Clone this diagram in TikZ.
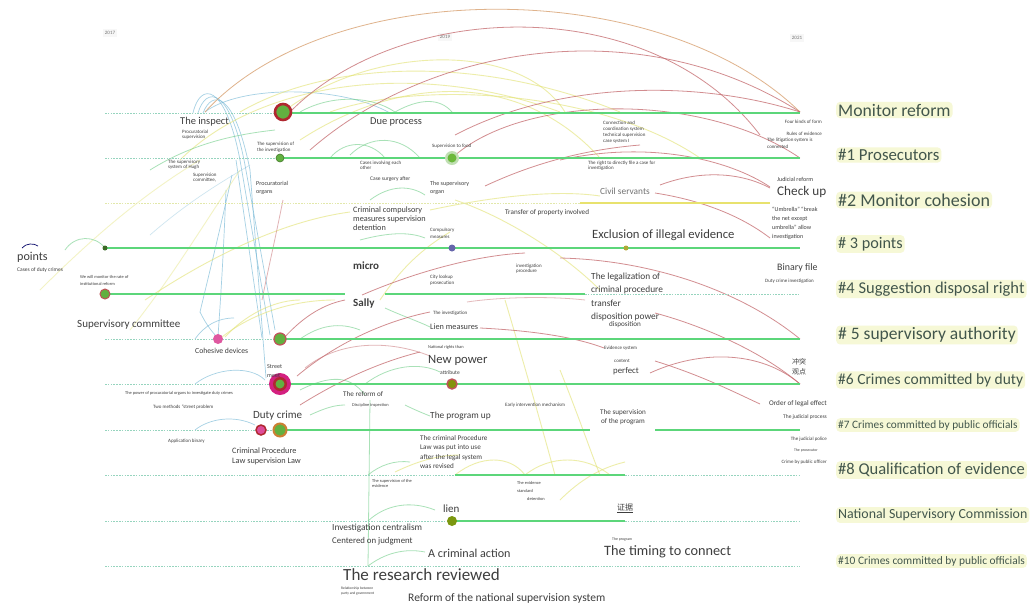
\documentclass[tikz,border=0pt]{standalone}
\usepackage{fontspec}
\setmainfont{Carlito}
\newfontfamily\cjkf{Noto Sans CJK SC}
\definecolor{ctlg}{RGB}{92,214,122}
\definecolor{ctld}{RGB}{150,212,190}
\definecolor{ctly}{RGB}{232,226,110}
\definecolor{ctlyd}{RGB}{226,232,170}
\definecolor{cR}{RGB}{196,104,108}
\definecolor{cO}{RGB}{216,160,112}
\definecolor{cY}{RGB}{226,226,112}
\definecolor{cG}{RGB}{112,206,136}
\definecolor{cB}{RGB}{118,184,214}
\definecolor{txtc}{RGB}{62,62,62}
\definecolor{labc}{RGB}{66,86,76}
\definecolor{hl}{RGB}{246,248,214}
\definecolor{cring}{RGB}{176,40,48}
\definecolor{cmag}{RGB}{212,32,128}
\definecolor{cgreen}{RGB}{98,176,64}
\begin{document}
\begin{tikzpicture}[x=1pt,y=-1pt,
  fs/.style 2 args={font=\fontsize{\fpeval{1.1*#1}}{\fpeval{1.1*#2}}\selectfont},
  fr/.style 2 args={font=\fontsize{#1}{#2}\selectfont},
  tx/.style={inner sep=0pt, anchor=west, align=left, text=txtc},
  txr/.style={inner sep=0pt, anchor=east, align=right, text=txtc},
  lab/.style={anchor=west, inner sep=2pt, text=labc, fill=hl, rounded corners=4pt},
  yr/.style={inner sep=2pt, text=black!55, fill=black!3, fr={5}{6}},
  tsolid/.style={draw=ctlg, line width=2.6pt},
  tdash/.style={draw=ctld, line width=.8pt, dash pattern=on 1.6pt off 1.2pt},
  arR/.style={draw=cR, line width=.8pt, opacity=.75},
  arO/.style={draw=cO, line width=.8pt, opacity=.8},
  arY/.style={draw=cY, line width=.9pt, opacity=.6},
  arG/.style={draw=cG, line width=.8pt, opacity=.6},
  arB/.style={draw=cB, line width=.7pt, opacity=.65},
  hub/.style={circle, inner sep=0pt, fill=cgreen}
]
\useasboundingbox (0,0) rectangle (1030,603);
\fill[white] (0,0) rectangle (1030,603);

% ---------- year labels ----------
\node[yr] (y17) at (110,33) {2017};
\node[yr] (y19) at (445,37) {2019};
\node[yr] (y21) at (797,38) {2021};

% ---------- arcs (behind) ----------
% blue
\draw[arB] (193,113) .. controls (200,82) and (225,82) .. (240,160);
\draw[arB] (198,113) .. controls (206,86) and (230,86) .. (245,165);
\draw[arB] (203,113) .. controls (212,90) and (234,90) .. (250,170);
\draw[arB] (205,112) .. controls (240,85) and (340,85) .. (390,113);
\draw[arB] (240,160) -- (270,335);
\draw[arB] (245,165) -- (275,330);
\draw[arB] (250,170) -- (266,378);
\draw[arB] (236,160) -- (262,338);
\draw[arB] (232,175) .. controls (220,230) and (210,270) .. (200,312);
\draw[arB] (226,190) .. controls (224,240) and (222,280) .. (218,336);
\draw[arB] (200,312) .. controls (205,322) and (210,330) .. (218,338);
\draw[arB] (195,339) .. controls (205,325) and (218,318) .. (234,318);
\draw[arB] (195,384) .. controls (215,368) and (250,365) .. (265,380);
\draw[arB] (195,430) .. controls (210,418) and (235,415) .. (255,425);
\draw[arB, opacity=.35] (150,235) .. controls (190,200) and (225,180) .. (250,165);
% yellow
\draw[arY] (180,160) .. controls (260,80) and (420,60) .. (560,112);
\draw[arY] (240,112) .. controls (330,60) and (480,55) .. (620,112);
\draw[arY] (300,140) .. controls (400,75) and (520,70) .. (600,158);
\draw[arY] (330,112) .. controls (420,80) and (600,90) .. (700,158);
\draw[arY] (283,112) .. controls (370,45) and (520,40) .. (565,112);
\draw[arY, opacity=.4] (40,290) .. controls (100,230) and (150,190) .. (200,160);
\draw[arY, opacity=.4] (130,330) .. controls (170,280) and (200,230) .. (240,170);
\draw[arY] (145,300) .. controls (220,250) and (290,220) .. (350,212);
\draw[arY] (455,200) .. controls (500,215) and (560,250) .. (600,290);
\draw[arY] (430,210) .. controls (500,195) and (560,190) .. (600,196);
\draw[arY] (380,300) .. controls (400,270) and (420,250) .. (450,232);
\draw[arY] (222,337) .. controls (250,315) and (290,300) .. (335,300);
\draw[arY] (225,337) .. controls (250,310) and (280,300) .. (300,300);
\draw[arY] (560,370) .. controls (580,420) and (590,450) .. (600,475);
\draw[arY] (505,300) .. controls (520,350) and (540,420) .. (555,475);
\draw[arY] (455,475) .. controls (480,455) and (510,455) .. (525,475);
\draw[arY] (525,475) .. controls (550,455) and (585,455) .. (610,475);
\draw[arY] (395,472) .. controls (420,460) and (440,455) .. (460,455);
\draw[arY] (560,500) .. controls (580,480) and (600,468) .. (625,462);
% green
\draw[arG] (300,112) .. controls (330,95) and (370,95) .. (395,112);
\draw[arG] (395,112) .. controls (420,98) and (440,98) .. (452,112);
\draw[arG] (330,158) .. controls (345,140) and (370,140) .. (385,158);
\draw[arG] (350,155) .. controls (370,135) and (400,135) .. (420,158);
\draw[arG] (150,170) .. controls (190,145) and (230,135) .. (275,130);
\draw[arG] (370,200) .. controls (390,185) and (410,185) .. (425,195);
\draw[arG] (65,250) .. controls (75,235) and (95,235) .. (105,248);
\draw[arG] (360,240) .. controls (390,232) and (410,232) .. (425,238);
\draw[arG] (385,308) .. controls (400,315) and (420,322) .. (430,327);
\draw[arG] (300,390) .. controls (330,375) and (350,375) .. (365,395);
\draw[arG] (310,415) .. controls (325,408) and (335,405) .. (345,405);
\draw[arG] (405,405) .. controls (415,410) and (425,414) .. (430,416);
\draw[arG] (370,400) -- (368,566);
\draw[arG] (368,521) .. controls (385,505) and (410,500) .. (435,510);
\draw[arG] (368,566) .. controls (385,553) and (405,548) .. (425,552);
\draw[arG] (368,475) .. controls (380,465) and (395,460) .. (410,462);
\draw[arG] (365,384) .. controls (390,365) and (420,362) .. (440,372);
\draw[arG] (300,339) .. controls (320,325) and (340,322) .. (360,330);
% red / orange
\draw[arO] (205,112) .. controls (330,-25) and (660,-25) .. (800,112);
\draw[arR] (290,112) .. controls (400,0) and (650,-10) .. (760,135);
\draw[arR] (310,150) .. controls (430,45) and (640,10) .. (800,112);
\draw[arR] (455,135) .. controls (560,80) and (700,80) .. (800,112);
\draw[arR] (452,158) .. controls (520,95) and (700,90) .. (800,158);
\draw[arR] (560,160) .. controls (650,140) and (730,160) .. (770,187);
\draw[arR] (660,185) .. controls (700,170) and (740,172) .. (770,188);
\draw[arR] (655,193) .. controls (700,200) and (740,215) .. (770,238);
\draw[arR] (485,186) .. controls (530,165) and (580,150) .. (640,145);
\draw[arR] (560,258) .. controls (650,260) and (740,290) .. (800,339);
\draw[arR] (655,313) .. controls (700,325) and (760,350) .. (800,384);
\draw[arR] (655,361) .. controls (700,375) and (730,390) .. (760,404);
\draw[arR] (650,373) .. controls (700,350) and (760,350) .. (800,384);
\draw[arR] (362,295) .. controls (420,270) and (480,255) .. (525,253);
\draw[arR, opacity=.45] (467,302) .. controls (500,297) and (550,296) .. (585,300);
\draw[arR] (480,328) .. controls (520,330) and (570,335) .. (604,348);
\draw[arR] (297,376) .. controls (340,340) and (390,320) .. (430,312);
\draw[arR] (300,405) .. controls (340,380) and (380,362) .. (420,352);
\draw[arR, opacity=.5] (305,368) .. controls (340,340) and (390,340) .. (430,356);
\draw[arR] (283,339) .. controls (300,320) and (320,305) .. (345,300);
\draw[arR, opacity=.5] (283,200) .. controls (275,240) and (268,270) .. (262,300);
\draw[draw=black!60!blue, line width=.7pt] (22,248) .. controls (26,243) and (34,243) .. (38,246);

% ---------- timelines ----------
\draw[tdash] (105,113) -- (283,113);  \draw[tsolid] (283,113) -- (800,113);
\draw[tdash] (105,158) -- (280,158);  \draw[tsolid] (280,158) -- (800,158);
\draw[draw=ctlyd, line width=.8pt, dash pattern=on 1.6pt off 1.2pt] (105,203) -- (580,203);
\draw[draw=ctly, line width=2pt] (580,203) -- (770,203);
\draw[tsolid] (105,248) -- (800,248);
\draw[tsolid] (105,294) -- (345,294);  \draw[tsolid] (385,294) -- (585,294);
\draw[tdash] (585,294) -- (800,294);
\draw[tdash] (105,339) -- (280,339);  \draw[tsolid] (280,339) -- (800,339);
\draw[tdash] (105,384) -- (280,384);  \draw[tsolid] (280,384) -- (800,384);
\draw[tdash] (105,430) -- (280,430);  \draw[tsolid] (280,430) -- (590,430);
\draw[tsolid] (655,430) -- (800,430);
\draw[tdash] (105,475) -- (455,475);  \draw[tsolid] (455,475) -- (625,475);
\draw[tdash] (625,475) -- (800,475);
\draw[tdash] (105,521) -- (450,521);  \draw[tsolid] (450,521) -- (625,521);
\draw[tdash] (625,521) -- (800,521);
\draw[tdash] (105,566) -- (800,566);

% ---------- hubs ----------
\node[hub, draw=cring, line width=2.6pt, minimum size=16pt] (h0) at (283,112) {};
\node[hub, draw=cgreen!70!black, line width=.6pt, minimum size=8pt] (h1) at (280,158) {};
\node[circle, fill=cgreen!40, minimum size=14pt, inner sep=0pt] at (452,158) {};
\node[hub, fill=cgreen!90!lime, minimum size=9pt] (h2) at (452,158) {};
\node[hub, fill=cgreen!60!black, minimum size=5pt] (h3) at (105,248) {};
\node[hub, fill=black!55!blue!60, minimum size=7pt] (h4) at (452,248) {};
\node[hub, fill=olive!70, minimum size=5pt] (h5) at (626,248) {};
\node[hub, draw=cring!80, line width=1pt, minimum size=10pt] (h6) at (105,294) {};
\node[circle, fill=cmag!75, minimum size=10pt, inner sep=0pt] (h7) at (218,339) {};
\node[hub, draw=cring!80, line width=1.2pt, minimum size=12pt] (h8) at (280,339) {};
\node[circle, fill=cmag, minimum size=22pt, inner sep=0pt] (h9) at (280,384) {};
\node[circle, fill=cring, minimum size=14pt, inner sep=0pt] at (280,384) {};
\node[hub, minimum size=9pt] at (280,384) {};
\node[hub, fill=olive!80!green, draw=cring!80, line width=1.4pt, minimum size=10pt] (h10) at (452,384) {};
\node[circle, fill=cmag!80, draw=cring, line width=1.5pt, minimum size=10pt, inner sep=0pt] (h11) at (261,430) {};
\node[hub, draw=brown!80!orange, line width=2pt, minimum size=13pt] (h12) at (280,430) {};
\node[hub, fill=olive!70!green, minimum size=10pt] (h13) at (452,521) {};

% ---------- labels on the map ----------
\node[tx, fs={9.5}{11}] (t1) at (180,122) {The inspect};
\node[tx, fs={4.5}{4.8}] (t2) at (182,134.5) {Procuratorial\\supervision};
\node[tx, fs={9.5}{11}] (t3) at (370,122) {Due process};
\node[tx, fs={4.5}{5.5}] (t4) at (257,147) {The supervision of\\the investigation};
\node[tx, fs={4.5}{5}] (t5) at (432,146) {Supervision to food};
\node[tx, fs={4.5}{5.5}] (t6) at (603,132) {Connection and\\coordination system\\technical supervision\\case system I};
\node[txr, fs={4.5}{5}] (t7) at (822,122) {Four kinds of form};
\node[txr, fs={4.5}{5}] (t8) at (822,134) {Rules of evidence};
\node[tx, fs={4.5}{6}] (t9) at (767,143.5) {The litigation system is\\connected};

\node[tx, fs={4.5}{5}] (t10) at (168,164.5) {The supervisory\\system of Hugh};
\node[tx, fs={4.5}{4.5}] (t11) at (193,178) {Supervision\\committee,};
\node[tx, fs={5.5}{7.3}] (t12) at (256,188) {Procuratorial\\organs};
\node[tx, fs={4.5}{5}] (t13) at (360,165.5) {Cases involving each\\other};
\node[tx, fs={5}{6}] (t14) at (370,179) {Case surgery after};
\node[tx, fs={5.5}{7.3}] (t15) at (430,188) {The supervisory\\organ};
\node[tx, fs={4.5}{5}] (t16) at (588,165.5) {The right to directly file a case for\\investigation};
\node[tx, fs={8.5}{10}, text=black!55] (t17) at (600,191) {Civil servants};
\node[tx, fs={5.5}{6.5}] (t18) at (777,179) {Judicial reform};
\node[tx, fs={12}{14}] (t19) at (777,192) {Check up};
\node[tx, fs={5.5}{8.2}] (t20) at (772,223.5) {``Umbrella'' ``break\\the net except\\umbrella'' allow\\investigation};
\node[tx, fs={6.5}{8}] (t21) at (505,213) {Transfer of property involved};
\node[tx, fs={7.5}{8.2}] (t22) at (353,219) {Criminal compulsory\\measures supervision\\detention};
\node[tx, fs={4.5}{6.4}] (t23) at (430,233.5) {Compulsory\\measures};

\node[tx, fs={11}{13}] (t24) at (17,257) {points};
\node[tx, fs={5}{6}] (t25) at (17,270) {Cases of duty crimes};
\node[tx, fs={11.5}{13}] (t26) at (592,235) {Exclusion of illegal evidence};
\node[tx, fs={10}{12}] (t27) at (353,266) {\bfseries micro};
\node[tx, fs={9}{11}] (t28) at (777,268) {Binary file};
\node[tx, fs={4.5}{5}] (t29) at (765,281) {Duty crime investigation};
\node[tx, fs={4}{6.4}] (t30) at (80,280.5) {We will monitor the rate of\\institutional reform};
\node[tx, fs={4.5}{5.5}] (t31) at (430,280) {City lookup\\prosecution};
\node[tx, fs={4.5}{4.6}] (t32) at (516,268.5) {investigation\\procedure};
\node[tx, fs={10}{12}] (t33) at (353,303) {\bfseries Sally};
\node[tx, fs={8.5}{12.1}] (t34) at (591,297) {The legalization of\\criminal procedure\\transfer\\disposition power};
\node[tx, fs={6.5}{8}] (t35) at (609,325) {disposition};
\node[tx, fs={10}{12}] (t36) at (77,325) {Supervisory committee};
\node[tx, fs={4.5}{5}] (t37) at (433,313) {The investigation};
\node[tx, fs={7.5}{9}] (t38) at (430,327) {Lien measures};
\node[tx, fs={7}{8}] (t39) at (195,351) {Cohesive devices};

\node[tx, fs={4.5}{5}] (t40) at (604,348) {Evidence system};
\node[tx, fs={4.5}{5}] (t41) at (614,361) {content};
\node[tx, fs={8}{9}] (t42) at (613,371) {perfect};
\node[tx, fr={7}{9.5}, execute at begin node=\cjkf] (t43) at (792,367) {冲突\\观点};
\node[tx, fs={4}{5}] (t44) at (428,347) {National rights than};
\node[tx, fs={11.5}{13}] (t45) at (428,360) {New power};
\node[tx, fs={5}{6}] (t46) at (440,373) {attribute};
\node[tx, fs={5.5}{8.2}] (t47) at (267,371.5) {Street\\meet};
\node[tx, fs={4}{5}] (t48) at (125,393) {The power of procuratorial organs to investigate duty crimes};
\node[tx, fs={4.5}{5}] (t49) at (153,407) {Two methods ``street problem};
\node[tx, fs={10}{12}] (t50) at (253,416) {Duty crime};
\node[tx, fs={6.5}{8}] (t51) at (343,394) {The reform of};
\node[tx, fs={4}{5}] (t52) at (352,405) {Discipline inspection};
\node[tx, fs={8.5}{10}] (t53) at (430,416) {The program up};
\node[tx, fs={4.5}{5}] (t54) at (505,405) {Early intervention mechanism};
\node[txr, fs={6.5}{8}] (t55) at (827,404) {Order of legal effect};
\node[txr, fs={5}{6}] (t56) at (827,417) {The judicial process};
\node[tx, fs={6.5}{8.2}, align=center] (t57) at (600,417.5) {The supervision\\of the program};
\node[tx, fs={4.5}{5}] (t58) at (168,441) {Application binary};
\node[tx, fs={7.5}{9.1}] (t59) at (232,456) {Criminal Procedure\\Law supervision Law};
\node[tx, fs={6.5}{8.5}] (t60) at (420,452) {The criminal Procedure\\Law was put into use\\after the legal system\\was revised};
\node[txr, fs={4.5}{5}] (t61) at (827,439) {The judicial police};
\node[txr, fs={3.5}{4}] (t62) at (818,450) {The prosecutor};
\node[txr, fs={4.5}{5}] (t63) at (827,462) {Crime by public officer};

\node[tx, fs={4}{4.6}] (t64) at (372,483.5) {The supervision of the\\evidence};
\node[tx, fs={4}{7.3}] (t65) at (517,491) {The evidence\\standard\\\hspace*{10pt}detention};
\node[tx, fs={10}{12}] (t66) at (443,509) {lien};
\node[tx, fr={8}{9}, execute at begin node=\cjkf] (t67) at (617,508) {\underline{证据}};
\node[tx, fs={8.5}{10}] (t68) at (332,528) {Investigation centralism};
\node[tx, fs={8}{10}] (t69) at (332,541) {Centered on judgment};
\node[tx, fs={11}{13}] (t70) at (428,553) {A criminal action};
\node[tx, fs={3.5}{4}] (t71) at (612,539) {The program};
\node[tx, fs={13}{15}] (t72) at (604,552) {The timing to connect};
\node[tx, fs={15.5}{18}] (t73) at (343,575) {The research reviewed};
\node[tx, fs={3.3}{4.5}] (t74) at (341,591) {Relationship between\\party and government};
\node[tx, fs={10.5}{12}] (t75) at (408,598) {Reform of the national supervision system};

% ---------- cluster labels ----------
\node[lab, fr={17.7}{20}] (c0) at (836,110) {Monitor reform};
\node[lab, fr={16.8}{19}] (c1) at (836,155) {\#1 Prosecutors};
\node[lab, fr={18}{20}] (c2) at (836,200) {\#2 Monitor cohesion};
\node[lab, fr={16.2}{18}] (c3) at (836,244) {\# 3 points};
\node[lab, fr={16.5}{18}] (c4) at (836,289) {\#4 Suggestion disposal right};
\node[lab, fr={17.5}{19}] (c5) at (836,335) {\# 5 supervisory authority};
\node[lab, fr={15.5}{18}] (c6) at (836,380) {\#6 Crimes committed by duty};
\node[lab, fr={11.3}{13}] (c7) at (836,425) {\#7 Crimes committed by public officials};
\node[lab, fr={16.5}{18}] (c8) at (836,470) {\#8 Qualification of evidence};
\node[lab, fr={13.9}{16}] (c9) at (836,515) {National Supervisory Commission};
\node[lab, fr={11.4}{13}] (c10) at (836,561) {\#10 Crimes committed by public officials};
\end{tikzpicture}
\end{document}
